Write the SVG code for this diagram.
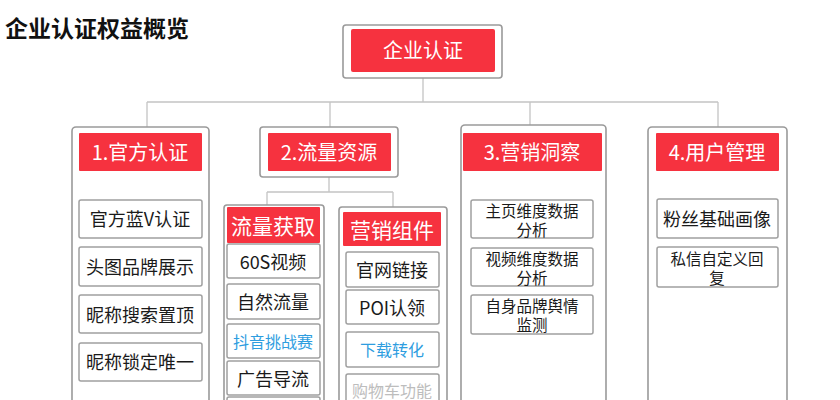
<svg xmlns="http://www.w3.org/2000/svg" width="840" height="400" viewBox="0 0 840 400">
<style>
text{font-family:"Microsoft YaHei","Noto Sans CJK SC","Noto Sans",sans-serif;text-anchor:middle;dominant-baseline:central}
.outer{fill:#fff;stroke:#9a9a9a;stroke-width:1.6}
.red{fill:#f6323f}
.item{fill:#fff;stroke:#a0a0a0;stroke-width:1.5}
.h{fill:#fff;font-size:20px}
.t{fill:#1a1a1a;font-size:18px}
.t2{fill:#1a1a1a;font-size:15.5px}
.blue{fill:#2e9ddf;font-size:16px}
.gray{fill:#bdbdbd;font-size:16px}
.c{fill:none;stroke:#c4c4c4;stroke-width:1.3}
</style>
<rect width="840" height="400" fill="#fff"/>
<text x="5" y="27" style="text-anchor:start;font-size:23px;font-weight:bold;fill:#111">企业认证权益概览</text>
<g id="connectors">
<path class="c" d="M423 78V102M147 102H718M147 102V127M330 102V127M530 102V125M718 102V127"/>
<path class="c" d="M329 177V192M267 192H393M267 192V205M393 192V207"/>
</g>
<g id="root">
<rect class="outer" x="343" y="25" width="159" height="53" rx="3"/>
<rect class="red" x="351" y="29" width="144" height="43" rx="2"/>
<text class="h" x="423" y="49">企业认证</text>
</g>
<g id="col1">
<rect class="outer" x="72" y="127" width="137" height="290" rx="4"/>
<rect class="red" x="79" y="133" width="123" height="38" rx="1"/>
<text class="h" x="140" y="151">1.官方认证</text>
</g>
<g id="c1i1"><rect class="item" x="79" y="200" width="123" height="38" rx="2"/><text class="t" x="140" y="218">官方蓝V认证</text></g>
<g id="c1i2"><rect class="item" x="79" y="247" width="123" height="39" rx="2"/><text class="t" x="140" y="266">头图品牌展示</text></g>
<g id="c1i3"><rect class="item" x="79" y="295" width="123" height="38" rx="2"/><text class="t" x="140" y="314">昵称搜索置顶</text></g>
<g id="c1i4"><rect class="item" x="79" y="343" width="123" height="38" rx="2"/><text class="t" x="140" y="361">昵称锁定唯一</text></g>
<g id="col2">
<rect class="outer" x="260" y="127" width="138" height="50" rx="3"/>
<rect class="red" x="268" y="133" width="123" height="38" rx="1"/>
<text class="h" x="329" y="151">2.流量资源</text>
</g>
<g id="sub1">
<rect class="outer" x="224" y="205" width="100" height="220" rx="3"/>
<rect class="red" x="227" y="207" width="93" height="36" rx="1"/>
<text class="h" x="273" y="225" style="font-size:21px">流量获取</text>
</g>
<g id="s1i1"><rect class="item" x="227" y="244" width="93" height="34" rx="2"/><text class="t" x="273" y="261">60S视频</text></g>
<g id="s1i2"><rect class="item" x="227" y="284" width="93" height="35" rx="2"/><text class="t" x="273" y="301">自然流量</text></g>
<g id="s1i3"><rect class="item" x="227" y="324" width="93" height="34" rx="2"/><text class="blue" x="273" y="341">抖音挑战赛</text></g>
<g id="s1i4"><rect class="item" x="227" y="361" width="93" height="34" rx="2"/><text class="t" x="273" y="378">广告导流</text></g>
<g id="s1i5"><rect class="item" x="227" y="397" width="93" height="20" rx="2"/></g>
<g id="sub2">
<rect class="outer" x="339" y="207" width="108" height="220" rx="3"/>
<rect class="red" x="343" y="212" width="98" height="34" rx="1"/>
<text class="h" x="392" y="229" style="font-size:21px">营销组件</text>
</g>
<g id="s2i1"><rect class="item" x="346" y="252" width="93" height="35" rx="2"/><text class="t" x="392" y="269">官网链接</text></g>
<g id="s2i2"><rect class="item" x="346" y="290" width="93" height="34" rx="2"/><text class="t" x="392" y="307">POI认领</text></g>
<g id="s2i3"><rect class="item" x="346" y="332" width="93" height="35" rx="2"/><text class="blue" x="392" y="349">下载转化</text></g>
<g id="s2i4"><rect class="item" x="346" y="374" width="93" height="40" rx="2"/><text class="gray" x="392" y="390">购物车功能</text></g>
<g id="col3">
<rect class="outer" x="461" y="125" width="145" height="292" rx="4"/>
<rect class="red" x="463" y="133" width="139" height="38" rx="1"/>
<text class="h" x="532" y="151">3.营销洞察</text>
</g>
<g id="c3i1"><rect class="item" x="471" y="200" width="122" height="38" rx="2"/><text class="t2" x="532" y="209.5">主页维度数据<tspan x="532" dy="19">分析</tspan></text></g>
<g id="c3i2"><rect class="item" x="471" y="248" width="122" height="38" rx="2"/><text class="t2" x="532" y="257.5">视频维度数据<tspan x="532" dy="19">分析</tspan></text></g>
<g id="c3i3"><rect class="item" x="471" y="295" width="122" height="39" rx="2"/><text class="t2" x="532" y="305">自身品牌舆情<tspan x="532" dy="19">监测</tspan></text></g>
<g id="col4">
<rect class="outer" x="648" y="127" width="139" height="290" rx="4"/>
<rect class="red" x="656" y="133" width="123" height="38" rx="1"/>
<text class="h" x="717" y="151">4.用户管理</text>
</g>
<g id="c4i1"><rect class="item" x="657" y="199" width="121" height="39" rx="2"/><text class="t" x="717" y="218">粉丝基础画像</text></g>
<g id="c4i2"><rect class="item" x="657" y="247" width="121" height="40" rx="2"/><text class="t2" x="717" y="257.5">私信自定义回<tspan x="717" dy="19">复</tspan></text></g>
</svg>
